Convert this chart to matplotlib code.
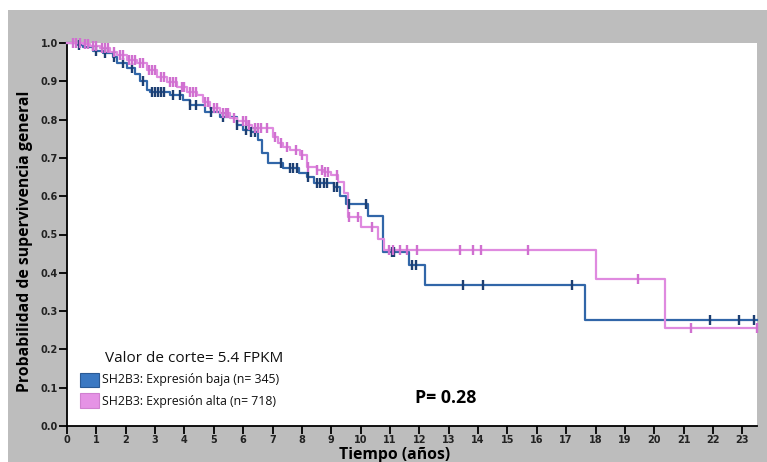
import numpy as np
import matplotlib.pyplot as plt
from matplotlib.patches import Rectangle

# Kaplan-Meier step data: event times (years) and survival after each step
t_baja = [0, 0.37, 0.55, 0.89, 1.23, 1.57, 1.71, 2.05, 2.32, 2.49, 2.73, 2.83,
          3.52, 3.96, 4.2, 4.71, 5.22, 5.8, 6.0, 6.25, 6.52, 6.65, 6.83, 7.37,
          7.89, 8.19, 8.4, 9.08, 9.3, 9.5, 10.24, 10.75, 11.64, 12.18, 17.65]
s_baja = [1.0, 0.995, 0.99, 0.98, 0.974, 0.963, 0.948, 0.935, 0.92, 0.90, 0.877, 0.872,
          0.864, 0.85, 0.838, 0.82, 0.807, 0.786, 0.773, 0.768, 0.747, 0.713, 0.687, 0.674,
          0.66, 0.65, 0.634, 0.624, 0.60, 0.58, 0.548, 0.454, 0.42, 0.368, 0.277]
cens_baja = [0.4, 1.0, 1.3, 1.6, 1.9, 2.2, 2.6, 2.9, 3.0, 3.1, 3.2, 3.3, 3.6, 3.86,
             4.2, 4.4, 4.9, 5.3, 5.8, 6.1, 6.25, 6.4, 7.3, 7.6, 7.7, 7.85, 8.2, 8.5,
             8.63, 8.75, 8.87, 9.08, 9.2, 9.6, 10.17, 11.06, 11.15, 11.74, 11.9,
             13.5, 14.16, 17.2, 21.9, 22.9, 23.4]

t_alta = [0, 0.55, 0.78, 1.13, 1.47, 1.71, 2.05, 2.39, 2.73, 3.07, 3.41, 3.75,
          4.1, 4.44, 4.64, 4.88, 5.22, 5.56, 5.8, 6.14, 6.31, 7.0, 7.17, 7.37,
          7.6, 7.95, 8.19, 8.53, 8.74, 8.98, 9.22, 9.42, 9.56, 10.0, 10.58, 10.78,
          18.02, 20.37]
s_alta = [1.0, 0.997, 0.993, 0.987, 0.977, 0.969, 0.956, 0.948, 0.93, 0.911, 0.898, 0.885,
          0.872, 0.864, 0.846, 0.83, 0.817, 0.804, 0.796, 0.786, 0.778, 0.755, 0.739, 0.728,
          0.72, 0.708, 0.676, 0.668, 0.663, 0.655, 0.637, 0.608, 0.546, 0.52, 0.488, 0.46,
          0.384, 0.256]
cens_alta = [0.2, 0.3, 0.45, 0.6, 0.7, 0.9, 1.0, 1.2, 1.3, 1.4, 1.6, 1.8, 1.9, 2.1,
             2.2, 2.3, 2.5, 2.6, 2.8, 2.9, 3.0, 3.2, 3.3, 3.5, 3.6, 3.7, 3.9, 4.0,
             4.2, 4.3, 4.4, 4.7, 4.8, 5.0, 5.1, 5.3, 5.4, 5.5, 5.7, 6.0, 6.1, 6.2,
             6.4, 6.5, 6.6, 6.8, 7.1, 7.3, 7.5, 7.8, 8.0, 8.22, 8.53, 8.7, 8.8, 8.9,
             9.2, 9.62, 9.9, 10.4, 10.96, 11.09, 11.33, 11.57, 11.91, 13.38, 13.82,
             14.1, 15.7, 19.45, 21.26, 23.5]

t_max = 23.5
x_ticks = list(range(0, 24))
y_ticks = [0.0, 0.1, 0.2, 0.3, 0.4, 0.5, 0.6, 0.7, 0.8, 0.9, 1.0]

blue = '#3166a8'
blue_mark = '#1d3f72'
pink = '#df8adf'
pink_mark = '#d070d0'

W, H = 767, 462
fig = plt.figure(figsize=(W / 100, H / 100), dpi=100, facecolor='white')
# gray frame behind the axes
fig.patches.append(Rectangle((8 / W, 0), 1, 1 - 10 / H, transform=fig.transFigure,
                             facecolor='#bdbdbd', edgecolor='none', zorder=-5))

ax = fig.add_axes([67 / W, 1 - 426 / H, (757 - 67) / W, (426 - 43) / H])
ax.set_facecolor('white')


def km_curve(t, s, cens, color, mcolor):
    tt = np.append(t, t_max)
    ss = np.append(s, s[-1])
    ax.step(tt, ss, where='post', color=color, lw=1.6, clip_on=False, zorder=3)
    # censoring ticks sit on the curve
    idx = np.searchsorted(t, cens, side='right') - 1
    ax.plot(cens, np.array(s)[idx], ls='none', marker='|', ms=6.5, mew=1.7,
            color=mcolor, clip_on=False, zorder=4)


km_curve(t_baja, s_baja, cens_baja, blue, blue_mark)
km_curve(t_alta, s_alta, cens_alta, pink, pink_mark)

ax.set_xlim(0, t_max)
ax.set_ylim(0, 1.0)
ax.set_xticks(x_ticks)
ax.set_yticks(y_ticks)
ax.set_yticklabels([f'{v:.1f}' for v in y_ticks])
for side in ('top', 'right'):
    ax.spines[side].set_visible(False)
for side in ('left', 'bottom'):
    ax.spines[side].set_linewidth(1.3)
ax.tick_params(length=5.5, width=1.3, pad=1, labelsize=7, labelcolor='#222222')
for lab in ax.get_xticklabels() + ax.get_yticklabels():
    lab.set_fontweight('bold')

fig.text(25 / W, 1 - 241 / H, 'Probabilidad de supervivencia general', rotation=90,
         ha='center', va='center', fontsize=11.3, fontweight='bold', family='Open Sans')
fig.text(395 / W, 1 - 455 / H, 'Tiempo (años)', ha='center', va='center',
         fontsize=11.3, fontweight='bold', family='Open Sans')

# legend block
fig.text(105 / W, 1 - 358 / H, 'Valor de corte= 5.4 FPKM', ha='left', va='center',
         fontsize=11, family='Open Sans', color='#111111')
ax.add_patch(Rectangle((80 / W, 1 - 387 / H), 19 / W, 14 / H, transform=fig.transFigure,
                       facecolor='#3a78c2', edgecolor='#2a5a95', lw=0.8, zorder=5))
ax.add_patch(Rectangle((80 / W, 1 - 408 / H), 19 / W, 15 / H, transform=fig.transFigure,
                       facecolor='#e592e5', edgecolor='#d080d0', lw=0.8, zorder=5))
fig.text(102 / W, 1 - 380 / H, 'SH2B3: Expresión baja (n= 345)', ha='left', va='center',
         fontsize=8.8, family='Open Sans', color='#111111')
fig.text(102 / W, 1 - 401 / H, 'SH2B3: Expresión alta (n= 718)', ha='left', va='center',
         fontsize=8.8, family='Open Sans', color='#111111')

fig.text(415 / W, 1 - 398 / H, 'P= 0.28', ha='left', va='center',
         fontsize=12.8, fontweight='bold', family='Open Sans')

fig.savefig('out.png', dpi=100, facecolor='white')
